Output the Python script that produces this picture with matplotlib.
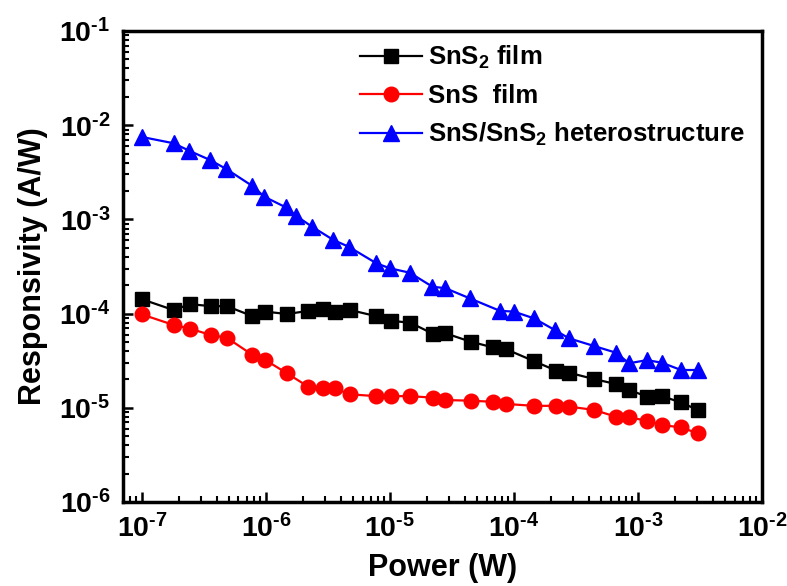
import numpy as np
import matplotlib
matplotlib.use("Agg")
import matplotlib.pyplot as plt
from matplotlib.ticker import LogLocator, NullFormatter, FuncFormatter

plt.rcParams["font.family"] = ["Liberation Sans", "DejaVu Sans"]
plt.rcParams["font.weight"] = "bold"
plt.rcParams["mathtext.fontset"] = "custom"
plt.rcParams["mathtext.rm"] = "Liberation Sans:bold"
plt.rcParams["mathtext.bf"] = "Liberation Sans:bold"
plt.rcParams["mathtext.default"] = "regular"

# power (W) for the two single-film series
power_film = [
    1.0e-7, 1.8e-7, 2.44e-7, 3.59e-7, 4.83e-7, 7.78e-7, 9.86e-7, 1.48e-6,
    2.20e-6, 2.86e-6, 3.57e-6, 4.79e-6, 7.72e-6, 1.01e-5, 1.46e-5, 2.24e-5,
    2.80e-5, 4.46e-5, 6.71e-5, 8.55e-5, 1.44e-4, 2.19e-4, 2.77e-4, 4.42e-4,
    6.62e-4, 8.47e-4, 1.19e-3, 1.56e-3, 2.22e-3, 3.03e-3,
]
# power (W) for the heterostructure
power_het = [
    1.0e-7, 1.8e-7, 2.4e-7, 3.54e-7, 4.78e-7, 7.78e-7, 9.7e-7, 1.45e-6,
    1.75e-6, 2.35e-6, 3.5e-6, 4.64e-6, 7.77e-6, 9.95e-6, 1.44e-5, 2.2e-5,
    2.8e-5, 4.41e-5, 7.7e-5, 9.98e-5, 1.45e-4, 2.13e-4, 2.77e-4, 4.42e-4,
    6.62e-4, 8.47e-4, 1.18e-3, 1.56e-3, 2.22e-3, 3.03e-3,
]

resp_sns2 = [
    1.42e-4, 1.09e-4, 1.26e-4, 1.2e-4, 1.2e-4, 9.4e-5, 1.05e-4, 9.9e-5,
    1.07e-4, 1.11e-4, 1.03e-4, 1.09e-4, 9.4e-5, 8.4e-5, 8.0e-5, 6.07e-5,
    6.18e-5, 5.04e-5, 4.39e-5, 4.21e-5, 3.14e-5, 2.48e-5, 2.36e-5, 2.02e-5,
    1.79e-5, 1.55e-5, 1.31e-5, 1.33e-5, 1.14e-5, 9.5e-6,
]
resp_sns = [
    9.8e-5, 7.57e-5, 6.92e-5, 5.93e-5, 5.55e-5, 3.64e-5, 3.22e-5, 2.32e-5,
    1.67e-5, 1.61e-5, 1.61e-5, 1.39e-5, 1.33e-5, 1.33e-5, 1.33e-5, 1.28e-5,
    1.21e-5, 1.19e-5, 1.16e-5, 1.10e-5, 1.05e-5, 1.05e-5, 1.03e-5, 9.5e-6,
    8.05e-6, 7.9e-6, 7.3e-6, 6.56e-6, 6.2e-6, 5.36e-6,
]
resp_het = [
    7.5e-3, 6.43e-3, 5.36e-3, 4.27e-3, 3.43e-3, 2.26e-3, 1.74e-3, 1.34e-3,
    1.09e-3, 8.37e-4, 6.04e-4, 5.13e-4, 3.42e-4, 3.03e-4, 2.72e-4, 1.93e-4,
    1.86e-4, 1.45e-4, 1.07e-4, 1.05e-4, 8.9e-5, 6.7e-5, 5.47e-5, 4.53e-5,
    3.85e-5, 2.97e-5, 3.21e-5, 3.01e-5, 2.52e-5, 2.52e-5,
]


def _pow10(v, pos):
    n = int(round(np.log10(v)))
    sign = r"\text{-}" if n < 0 else ""
    return r"$\mathdefault{10^{%s%d}}$" % (sign, abs(n))


fig = plt.figure(figsize=(7.87, 5.86), dpi=100)
ax = fig.add_axes([0.1563, 0.1433, 0.812, 0.8038])

ax.plot(power_film, resp_sns2, color="black", marker="s", markersize=10,
        linewidth=1.6, label=r"SnS$_{\mathbf{2}}$ film")
ax.plot(power_film, resp_sns, color="#ff0000", marker="o", markersize=10.5,
        linewidth=1.6, label="SnS  film")
ax.plot(power_het, resp_het, color="#0000ff", marker="^", markersize=11,
        linewidth=1.6, label=r"SnS/SnS$_{\mathbf{2}}$ heterostructure")

ax.set_xscale("log")
ax.set_yscale("log")
ax.set_xlim(7.03e-8, 1e-2)
ax.set_ylim(1e-6, 1e-1)

for axis in (ax.xaxis, ax.yaxis):
    axis.set_major_locator(LogLocator(base=10, numticks=10))
    axis.set_minor_locator(LogLocator(base=10, subs=np.arange(2, 10), numticks=20))
    axis.set_major_formatter(FuncFormatter(_pow10))
    axis.set_minor_formatter(NullFormatter())

for side in ax.spines.values():
    side.set_linewidth(2.5)
ax.tick_params(which="major", direction="in", length=7, width=1.8,
               labelsize=20.5, top=False, right=False)
ax.tick_params(axis="x", which="major", pad=9)
ax.tick_params(axis="y", which="major", pad=9)
ax.tick_params(which="minor", direction="in", length=4, width=1.5,
               top=False, right=False)

ax.set_xlabel("Power (W)", fontsize=22, fontweight="bold", labelpad=7)
ax.set_ylabel("Responsivity (A/W)", fontsize=22, fontweight="bold", labelpad=8)

ax.legend(loc="upper left", bbox_to_anchor=(0.371, 0.972), frameon=False,
          fontsize=18.5, handlelength=2.4, handletextpad=0.25,
          labelspacing=0.5, borderaxespad=0, borderpad=0)

fig.savefig("out.png", dpi=100)
